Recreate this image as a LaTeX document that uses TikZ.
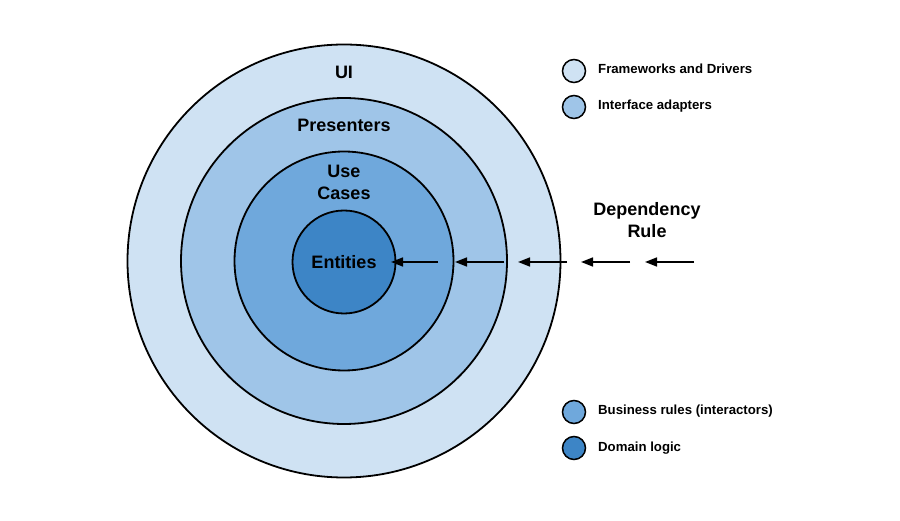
\documentclass[tikz,border=0pt]{standalone}
\usepackage{fontspec}
\setmainfont{Liberation Sans}
\usetikzlibrary{arrows.meta}
\definecolor{cA}{HTML}{CFE2F3}
\definecolor{cB}{HTML}{9FC5E8}
\definecolor{cC}{HTML}{6FA8DC}
\definecolor{cD}{HTML}{3D85C6}
\tikzset{
  ring/.style={circle, draw=black, line width=1.8pt, inner sep=0pt},
  lbl/.style={font=\fontsize{18}{20}\selectfont\bfseries, text=black, align=center, inner sep=0pt},
  legdot/.style={circle, draw=black, line width=1.5pt, minimum size=23pt, inner sep=0pt},
  legtxt/.style={font=\fontsize{13.2}{15}\selectfont\bfseries, anchor=west, inner sep=0pt},
  deparrow/.style={line width=1.6pt, -{Triangle[length=12pt,width=9pt]}}
}
\begin{document}
\begin{tikzpicture}[x=1pt,y=-1pt]
\useasboundingbox[fill=white] (0,0) rectangle (900,521);
% rings
\node[ring, fill=cA, minimum size=433pt] (ui) at (344,261) {};
\node[ring, fill=cB, minimum size=326pt] (pres) at (344,261) {};
\node[ring, fill=cC, minimum size=219pt] (uc) at (344,261) {};
\node[ring, fill=cD, minimum size=103pt] (ent) at (344,262) {};
% labels
\node[lbl] (tui) at (344,72) {UI};
\node[lbl] (tpres) at (344,125) {Presenters};
\node[lbl] (tuc) at (344,182) {Use\\[2pt]Cases};
\node[lbl] (tent) at (344,262) {Entities};
\node[lbl] (tdep) at (647,220) {Dependency\\[2pt]Rule};
% arrows
\coordinate (a1s) at (438,262); \coordinate (a1e) at (391,262);
\coordinate (a2s) at (504,262); \coordinate (a2e) at (455,262);
\coordinate (a3s) at (567,262); \coordinate (a3e) at (518,262);
\coordinate (a4s) at (630,262); \coordinate (a4e) at (581,262);
\coordinate (a5s) at (694,262); \coordinate (a5e) at (645,262);
\draw[deparrow] (a1s) -- (a1e);
\draw[deparrow] (a2s) -- (a2e);
\draw[deparrow] (a3s) -- (a3e);
\draw[deparrow] (a4s) -- (a4e);
\draw[deparrow] (a5s) -- (a5e);
% legend
\node[legdot, fill=cA] (l1) at (574,71) {};
\node[legtxt] (t1) at (598,69) {Frameworks and Drivers};
\node[legdot, fill=cB] (l2) at (574,107) {};
\node[legtxt] (t2) at (598,106) {Interface adapters};
\node[legdot, fill=cC] (l3) at (574,412) {};
\node[legtxt] (t3) at (598,411) {Business rules (interactors)};
\node[legdot, fill=cD] (l4) at (574,448) {};
\node[legtxt] (t4) at (598,448) {Domain logic};
\end{tikzpicture}
\end{document}
